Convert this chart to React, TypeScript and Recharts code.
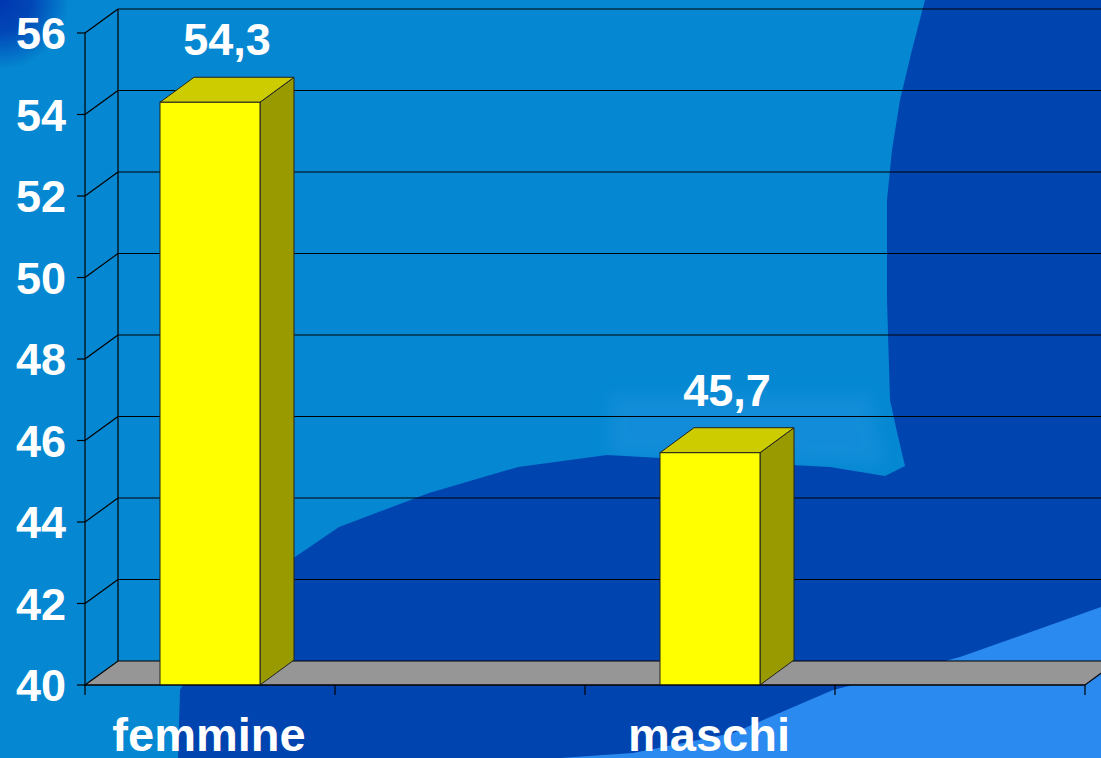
import { Bar, BarChart, CartesianGrid, LabelList, XAxis, YAxis } from "recharts";

const categories = ["femmine", "", "maschi", ""];
const values = [54.3, null, 45.7, null];
const yTicks = [40, 42, 44, 46, 48, 50, 52, 54, 56];

const data = categories.map((name, i) => ({ name, value: values[i] }));

const W = 1101;
const H = 758;
const FONT = "'Liberation Sans', Arial, sans-serif";

// depth of the pseudo-3d box
const WALL_DX = 33;
const WALL_DY = 24;
const BAR_DX = 34;
const BAR_DY = 25;

function Backdrop() {
  return (
    <svg width={W} height={H} style={{ position: "absolute", left: 0, top: 0 }}>
      <defs>
        <radialGradient id="corner" cx="0" cy="0" r="70" gradientUnits="userSpaceOnUse">
          <stop offset="0" stopColor="#0036b0" stopOpacity="1" />
          <stop offset="0.45" stopColor="#0036b0" stopOpacity="0.8" />
          <stop offset="1" stopColor="#0036b0" stopOpacity="0" />
        </radialGradient>
        <filter id="soft" x="-20%" y="-20%" width="140%" height="140%">
          <feGaussianBlur stdDeviation="8" />
        </filter>
      </defs>
      <rect x={0} y={0} width={W} height={H} fill="#0588d1" />
      <path
        d="M610,395 L870,395 L885,466 L700,458 L610,456 Z"
        fill="#2a96e6"
        opacity={0.35}
        filter="url(#soft)"
      />
      <path
        d="M925,0 L1101,0 L1101,758 L178,758 L180,690 L205,645 L250,600 L295,557 L339,527 L429,493 L518,467 L607,455 L696,460 L830,467 L885,476 L905,466 L897,432 L890,400 L887,300 L887,200 L892,150 L900,100 L912,50 Z"
        fill="#0044b0"
      />
      <path
        d="M560,758 L633,753 L733,733 L833,690 L960,657 L1101,607 L1101,758 Z"
        fill="#2a8af0"
      />
      <rect x={0} y={0} width={90} height={90} fill="url(#corner)" />
    </svg>
  );
}

function GridLine(props: any) {
  const { x1, y1, x2, y, height } = props;
  const bx = x1 + WALL_DX;
  const by = y1 - WALL_DY;
  const isFloor = Math.abs(y1 - (y + height)) < 0.5;
  const isTop = Math.abs(y1 - y) < 0.5;
  if (isFloor) {
    return (
      <g>
        <polygon
          points={`${x1},${y1} ${bx},${by} ${x2 + WALL_DX},${by} ${x2},${y1}`}
          fill="#969696"
          stroke="#000"
          strokeWidth={1.2}
        />
      </g>
    );
  }
  return (
    <g>
      <line x1={x1} y1={y1} x2={bx} y2={by} stroke="#000" strokeWidth={1.2} />
      <line x1={bx} y1={by} x2={x2 + WALL_DX} y2={by} stroke="#000" strokeWidth={1.2} />
      {isTop && (
        <line x1={bx} y1={by} x2={bx} y2={y + height - WALL_DY} stroke="#000" strokeWidth={1.2} />
      )}
    </g>
  );
}

function Box3D(props: any) {
  const { x, y, width, height } = props;
  if (!height) return null;
  const r = x + width;
  const b = y + height;
  return (
    <g stroke="#222" strokeWidth={1}>
      <polygon
        points={`${r},${y} ${r + BAR_DX},${y - BAR_DY} ${r + BAR_DX},${b - BAR_DY} ${r},${b}`}
        fill="#999900"
      />
      <polygon
        points={`${x},${y} ${x + BAR_DX},${y - BAR_DY} ${r + BAR_DX},${y - BAR_DY} ${r},${y}`}
        fill="#cccc00"
      />
      <rect x={x} y={y} width={width} height={height} fill="#ffff00" />
    </g>
  );
}

function ValueLabel(props: any) {
  const { x, y, width, value } = props;
  if (value == null) return null;
  return (
    <text
      x={x + width / 2 + BAR_DX / 2}
      y={y - 47}
      textAnchor="middle"
      fill="#fff"
      fontFamily={FONT}
      fontWeight="bold"
      fontSize={45}
    >
      {String(value).replace(".", ",")}
    </text>
  );
}

function YTick(props: any) {
  const { x, y, payload } = props;
  return (
    <text
      x={x}
      y={y + 16}
      textAnchor="end"
      fill="#fff"
      fontFamily={FONT}
      fontWeight="bold"
      fontSize={45}
    >
      {payload.value}
    </text>
  );
}

function XTick(props: any) {
  const { x, y, payload, index } = props;
  const half = payload.offset ?? 125;
  const last = index === categories.length - 1;
  return (
    <g>
      <line x1={x - half} y1={y} x2={x - half} y2={y + 10} stroke="#000" strokeWidth={1.2} />
      {last && (
        <line x1={x + half} y1={y} x2={x + half} y2={y + 10} stroke="#000" strokeWidth={1.2} />
      )}
      <text
        x={x - 1}
        y={y + 66}
        textAnchor="middle"
        fill="#fff"
        fontFamily={FONT}
        fontWeight="bold"
        fontSize={47}
      >
        {payload.value}
      </text>
    </g>
  );
}

export default function App() {
  return (
    <div style={{ position: "absolute", left: 0, top: 0, width: W, height: H, overflow: "hidden" }}>
      <Backdrop />
      <div style={{ position: "absolute", left: 0, top: 0 }}>
        <BarChart
          width={W}
          height={H}
          data={data}
          margin={{ top: 33, right: 16, bottom: 0, left: 0 }}
          barSize={100}
        >
          <CartesianGrid vertical={false} horizontal={GridLine as any} />
          <XAxis
            dataKey="name"
            height={73}
            axisLine={{ stroke: "#000", strokeWidth: 1.2 }}
            tickLine={false}
            tickSize={0}
            tickMargin={0}
            interval={0}
            tick={XTick}
          />
          <YAxis
            width={85}
            domain={[40, 56]}
            ticks={yTicks}
            interval={0}
            allowDataOverflow
            axisLine={{ stroke: "#000", strokeWidth: 1.2 }}
            tickLine={{ stroke: "#000", strokeWidth: 1.2 }}
            tickSize={8}
            tickMargin={11}
            tick={YTick}
          />
          <Bar dataKey="value" shape={Box3D} isAnimationActive={false}>
            <LabelList dataKey="value" content={ValueLabel} />
          </Bar>
        </BarChart>
      </div>
    </div>
  );
}
